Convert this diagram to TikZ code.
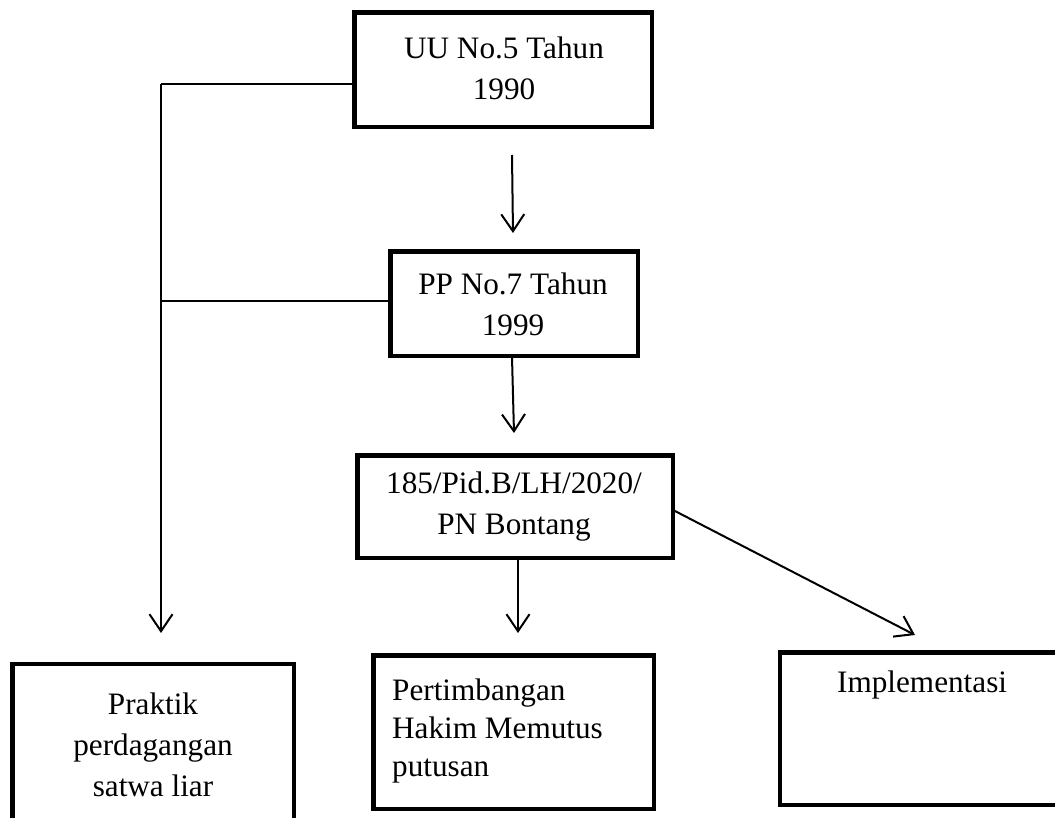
\documentclass[tikz,border=0pt]{standalone}
\usepackage{fontspec}
\setmainfont{Liberation Serif}
\usetikzlibrary{arrows.meta,calc}
\begin{document}
\begin{tikzpicture}[x=1pt,y=-1pt,
  box/.style={draw, line width=4.5pt, rectangle, inner sep=0pt},
  txt/.style={inner sep=0pt, font=\fontsize{31.2}{41}\selectfont},
  conn/.style={line width=2pt},
  arr/.style={line width=2pt, -{Straight Barb[length=17pt,width=23pt]}}]
\useasboundingbox (0,0) rectangle (1055,817);
\clip (0,0) rectangle (1055,817);
% boxes
\node[box, minimum width=297.5pt, minimum height=114.5pt] (uu) at (503,69.5) {};
\node[box, minimum width=247.5pt, minimum height=104.5pt] (pp) at (514,303.5) {};
\node[box, minimum width=315.5pt, minimum height=102.5pt] (pn) at (515,506.5) {};
\node[box, minimum width=281.5pt, minimum height=190pt] (pr) at (153,759) {};
\node[box, minimum width=280.5pt, minimum height=153.5pt] (pt) at (513.5,732) {};
\node[box, minimum width=300pt, minimum height=152.5pt] (im) at (930,728.5) {};
% texts
\node[txt, align=center] (tuu) at (504,68) {UU No.5 Tahun\\1990};
\node[txt, align=center] (tpp) at (513,304) {PP No.7 Tahun\\1999};
\node[txt, align=center] (tpn) at (514,507) {185/Pid.B/LH/2020/\\PN Bontang};
\node[txt, align=center] (tpr) at (153,745) {Praktik\\perdagangan\\satwa liar};
\node[txt, align=left, anchor=west, font=\fontsize{31.2}{38}\selectfont] (tpt) at (392,731) {Pertimbangan\\Hakim Memutus\\putusan};
\node[txt, anchor=west] (tim) at (837,685) {Implementasi};
% coordinates
\coordinate (l0) at (161,84);
\coordinate (l1) at (161,301);
\coordinate (lend) at (161,633);
\coordinate (a1s) at (512,155);
\coordinate (a1e) at (513,233);
\coordinate (a2s) at (512,357);
\coordinate (a2e) at (514,433);
\coordinate (a3s) at (518,559);
\coordinate (a3e) at (518,633);
\coordinate (a4s) at (673,510);
\coordinate (a4e) at (915,635);
% connectors
\draw[conn] (uu.west |- l0) -- (l0);
\draw[conn] (pp.west |- l1) -- (l1);
\draw[arr] (l0) -- (lend);
\draw[arr] (a1s) -- (a1e);
\draw[arr] (a2s) -- (a2e);
\draw[arr] (a3s) -- (a3e);
\draw[arr] (a4s) -- (a4e);
\end{tikzpicture}
\end{document}
